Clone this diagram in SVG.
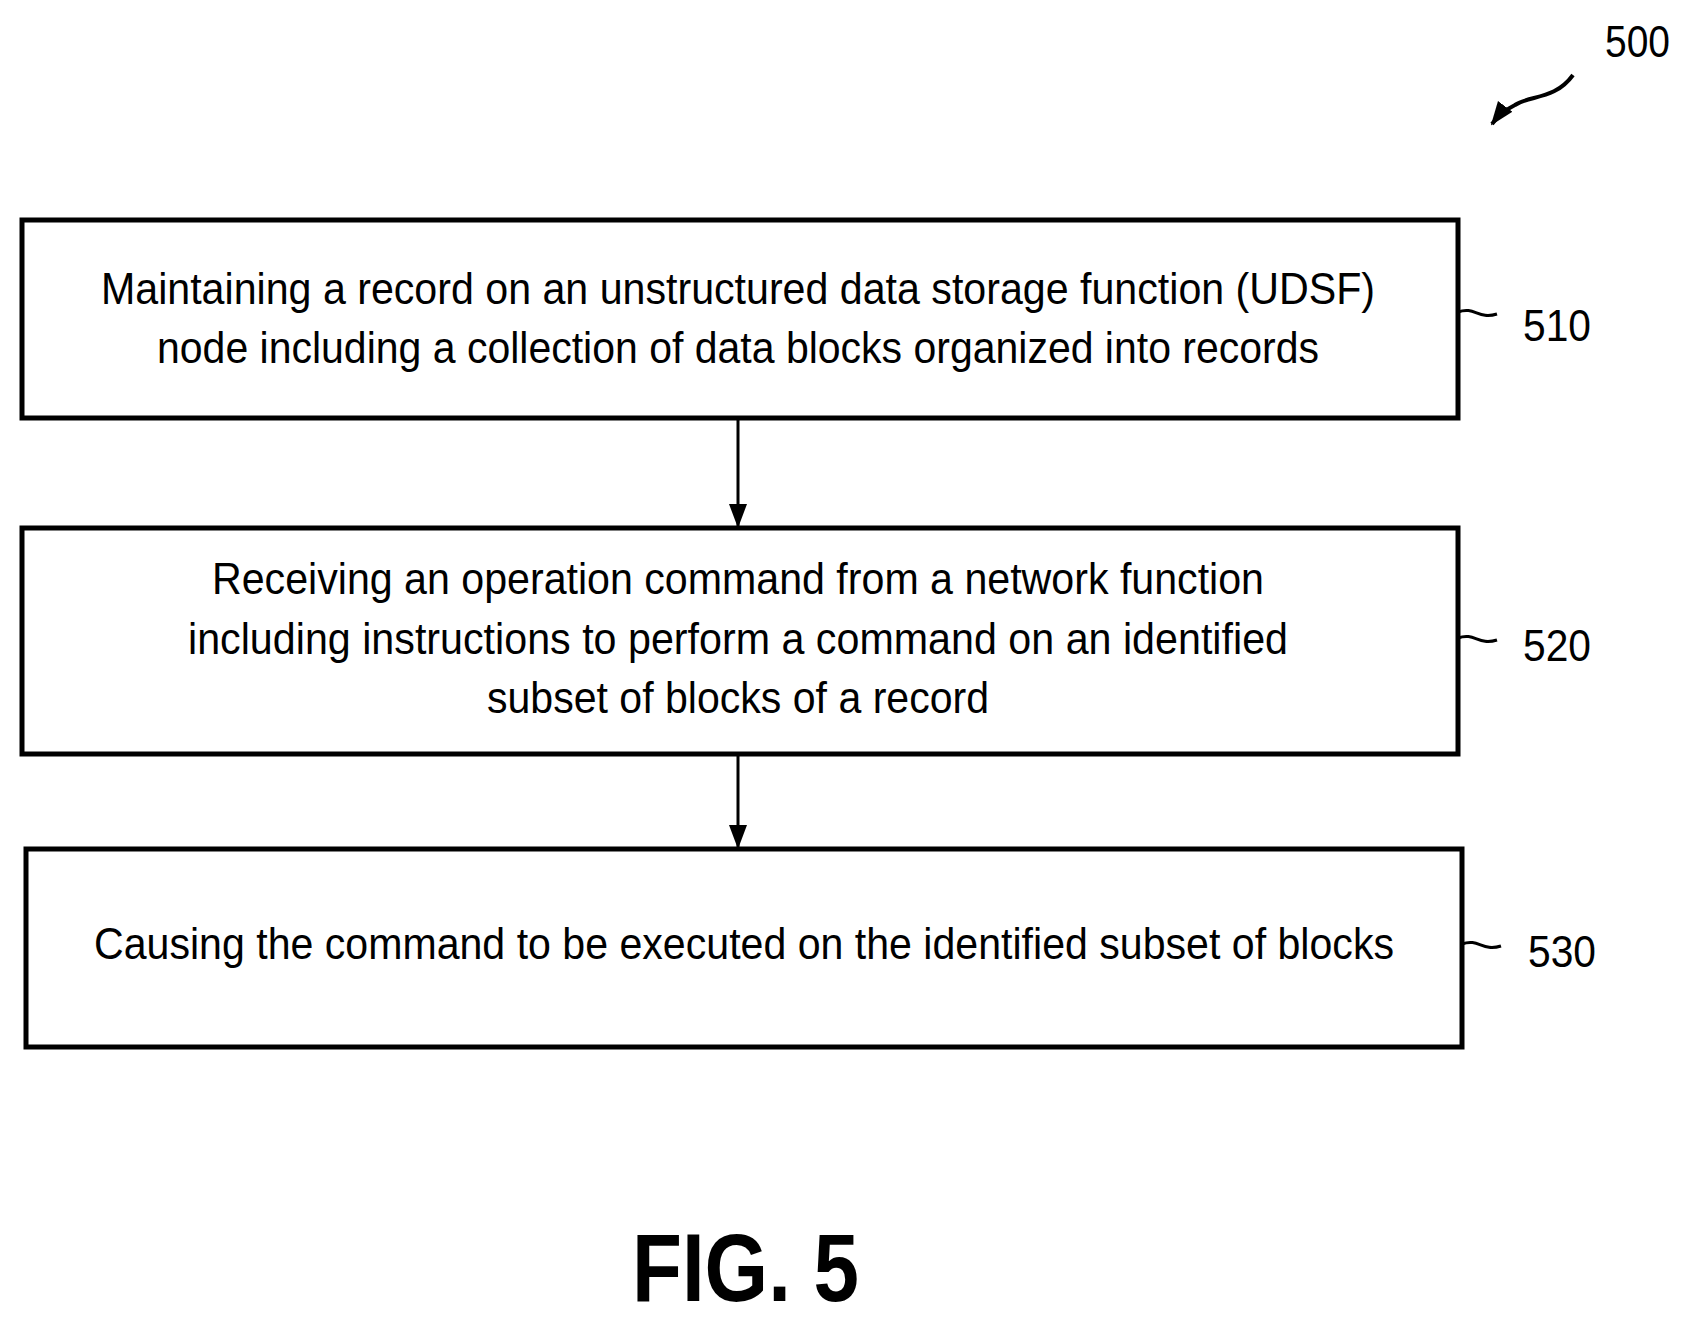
<svg xmlns="http://www.w3.org/2000/svg" width="1691" height="1319" viewBox="0 0 1691 1319">
<style>
.box{fill:#fff;stroke:#000;stroke-width:5}
.t{font-family:"Liberation Sans",Arial,sans-serif;font-size:44px;fill:#000}
.c{stroke:#000;stroke-width:3;fill:none}
</style>
<defs><marker id="ah" markerWidth="10" markerHeight="10" refX="9" refY="5" orient="auto" markerUnits="userSpaceOnUse" viewBox="0 0 10 10"><path d="M0,0 L10,5 L0,10 z" transform="scale(1)"/></marker>
<marker id="a2" markerWidth="24" markerHeight="24" refX="22" refY="12" orient="auto" markerUnits="userSpaceOnUse"><path d="M0,3 L24,12 L0,21 z"/></marker></defs>
<rect width="1691" height="1319" fill="#fff"/>
<g id="n510"><rect class="box" x="22" y="220" width="1436" height="198"/>
<text class="t" x="738" y="304" text-anchor="middle" textLength="1274" lengthAdjust="spacingAndGlyphs">Maintaining a record on an unstructured data storage function (UDSF)</text>
<text class="t" x="738" y="363" text-anchor="middle" textLength="1162" lengthAdjust="spacingAndGlyphs">node including a collection of data blocks organized into records</text>
<path class="c" d="M1458,312 C1475,306 1478,320 1497,314"/>
<text class="t" x="1523" y="341" textLength="68" lengthAdjust="spacingAndGlyphs">510</text></g>
<g id="n520"><rect class="box" x="22" y="528" width="1436" height="226"/>
<text class="t" x="738" y="594" text-anchor="middle" textLength="1052" lengthAdjust="spacingAndGlyphs">Receiving an operation command from a network function</text>
<text class="t" x="738" y="654" text-anchor="middle" textLength="1100" lengthAdjust="spacingAndGlyphs">including instructions to perform a command on an identified</text>
<text class="t" x="738" y="713" text-anchor="middle" textLength="502" lengthAdjust="spacingAndGlyphs">subset of blocks of a record</text>
<path class="c" d="M1458,638 C1475,632 1478,646 1497,640"/>
<text class="t" x="1523" y="661" textLength="68" lengthAdjust="spacingAndGlyphs">520</text></g>
<g id="n530"><rect class="box" x="26" y="849" width="1436" height="198"/>
<text class="t" x="744" y="959" text-anchor="middle" textLength="1300" lengthAdjust="spacingAndGlyphs">Causing the command to be executed on the identified subset of blocks</text>
<path class="c" d="M1462,944 C1479,938 1482,952 1501,946"/>
<text class="t" x="1528" y="967" textLength="68" lengthAdjust="spacingAndGlyphs">530</text></g>
<g id="connectors">
<line class="c" x1="738" y1="420" x2="738" y2="526" marker-end="url(#a2)"/>
<line class="c" x1="738" y1="756" x2="738" y2="847" marker-end="url(#a2)"/>
<path d="M1573,75 C1555,100 1530,95 1515,105 C1505,110 1498,116 1492,124" stroke="#000" stroke-width="4" fill="none" marker-end="url(#a2)"/>
</g>
<text class="t" x="1605" y="57" textLength="65" lengthAdjust="spacingAndGlyphs">500</text>
<text x="632" y="1301" font-family="Liberation Sans,Arial,sans-serif" font-weight="bold" font-size="96" textLength="227" lengthAdjust="spacingAndGlyphs">FIG. 5</text>
</svg>
